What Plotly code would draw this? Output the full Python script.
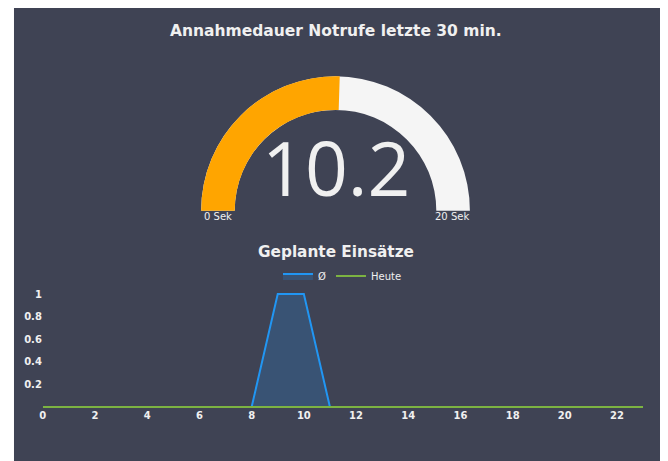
import plotly.graph_objects as go

FW, FH = 660, 453   # figure size (page body has an 8px margin)
OFF = 8

# Gauge data
gauge_value = 10.2
gauge_min = 0
gauge_max = 20
gauge_min_label = "0 Sek"
gauge_max_label = "20 Sek"

# Line chart data
hours = list(range(0, 24))
avg_values = [0, 0, 0, 0, 0, 0, 0, 0, 0, 1, 1, 0, 0, 0, 0, 0, 0, 0, 0, 0, 0, 0, 0, 0]
today_values = [0] * 24
x_tick_labels = [0, 2, 4, 6, 8, 10, 12, 14, 16, 18, 20, 22]
y_tick_labels = [0.2, 0.4, 0.6, 0.8, 1]

BG = "#3f4354"
TXT = "#f0f0f0"
FONT = "Verdana, DejaVu Sans, sans-serif"


def px(x):
    return (x - OFF) / FW


def py(y):
    return 1 - (y - OFF) / FH


fig = go.Figure()

fig.add_trace(go.Indicator(
    mode="gauge",
    value=gauge_value,
    domain=dict(x=[px(334 - 135), px(334 + 135)], y=[py(212), py(75)]),
    gauge=dict(
        shape="angular",
        axis=dict(range=[gauge_min, gauge_max], visible=False),
        bar=dict(color="#ffa500", thickness=1, line=dict(width=0)),
        bgcolor="#f5f5f5",
        borderwidth=0,
    ),
))

fig.add_trace(go.Scatter(
    x=hours, y=avg_values, name="Ø", mode="lines",
    line=dict(color="#2196f3", width=2),
    fill="tozeroy", fillcolor="rgba(33,150,243,0.2)",
))
fig.add_trace(go.Scatter(
    x=hours, y=today_values, name="Heute", mode="lines",
    line=dict(color="#7cb342", width=2),
))

y_lo, y_hi = -0.01, 1.06
y0_px, unit_px = 407, 113

fig.update_layout(
    width=FW, height=FH,
    margin=dict(l=0, r=0, t=0, b=0),
    paper_bgcolor="white",
    plot_bgcolor="rgba(0,0,0,0)",
    font=dict(family=FONT, color=TXT),
    showlegend=True,
    legend=dict(orientation="h", x=px(341), xanchor="center", y=py(276), yanchor="middle",
                font=dict(size=10, color=TXT, family=FONT), bgcolor="rgba(0,0,0,0)"),
    xaxis=dict(domain=[px(40), px(643)], range=[0, 23], tickvals=x_tick_labels,
               showgrid=False, zeroline=False, showline=False, ticks="",
               tickfont=dict(size=10, color=TXT, family=FONT, weight="bold")),
    yaxis=dict(domain=[py(y0_px - y_lo * unit_px), py(y0_px - y_hi * unit_px)],
               range=[y_lo, y_hi], tickvals=y_tick_labels,
               showgrid=False, zeroline=False, showline=False, ticks="",
               tickfont=dict(size=10, color=TXT, family=FONT, weight="bold")),
    shapes=[dict(type="rect", xref="paper", yref="paper", layer="below",
                 x0=px(11), x1=px(663), y0=py(461), y1=py(8),
                 fillcolor=BG, line=dict(width=0))],
    annotations=[
        dict(text="<b>Annahmedauer Notrufe letzte 30 min.</b>", x=px(334), y=py(31),
             xref="paper", yref="paper", showarrow=False, xanchor="center", yanchor="middle",
             font=dict(size=15.5, color=TXT, family=FONT)),
        dict(text=f"{gauge_value}", x=px(334), y=py(167),
             xref="paper", yref="paper", showarrow=False, xanchor="center", yanchor="middle",
             font=dict(size=75, color=TXT, family="Open Sans, sans-serif")),
        dict(text="<b>Geplante Einsätze</b>", x=px(334), y=py(252),
             xref="paper", yref="paper", showarrow=False, xanchor="center", yanchor="middle",
             font=dict(size=15.3, color=TXT, family=FONT)),
        dict(text=gauge_min_label, x=px(216), y=py(216),
             xref="paper", yref="paper", showarrow=False, xanchor="center", yanchor="middle",
             font=dict(size=10, color=TXT, family=FONT)),
        dict(text=gauge_max_label, x=px(451), y=py(216),
             xref="paper", yref="paper", showarrow=False, xanchor="center", yanchor="middle",
             font=dict(size=10, color=TXT, family=FONT)),
    ],
)

fig.write_html("out.html")
